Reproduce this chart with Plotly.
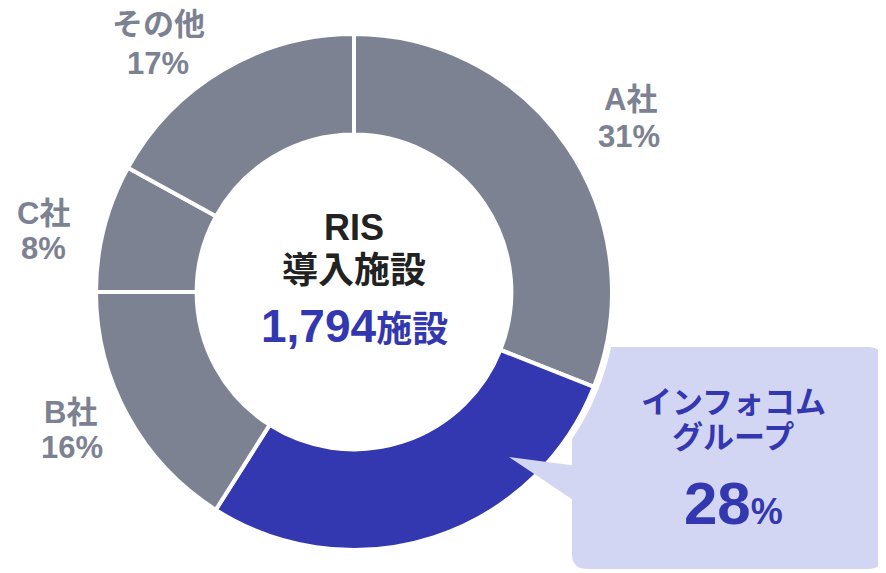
import plotly.graph_objects as go

# ---- data ----
labels = ["A社", "インフォコム<br>グループ", "B社", "C社", "その他"]
values = [31, 28, 16, 8, 17]
pct_text = ["31%", "28%", "16%", "8%", "17%"]
total_facilities = "1,794"

# page body has an 8px margin; size the figure so it fits the 886x573 window
OFF = 8
W, H = 886 - OFF, 573 - OFF
GRAY = "#7D8293"
BLUE = "#3338B0"
CALLOUT_BG = "#D3D6F2"
FONT = "Liberation Sans, Arial, Noto Sans CJK JP, sans-serif"

def px(x):
    return (x - OFF) / W

def py(y):
    return 1 - (y - OFF) / H

cx, cy, R = 354, 292, 258

fig = go.Figure()
fig.add_trace(go.Pie(
    labels=labels,
    values=values,
    hole=0.61,
    sort=False,
    direction="clockwise",
    rotation=0,
    marker=dict(colors=[GRAY, BLUE, GRAY, GRAY, GRAY], line=dict(color="white", width=4)),
    textinfo="none",
    hoverinfo="skip",
    showlegend=False,
    domain=dict(x=[px(cx - R), px(cx + R)], y=[py(cy + R), py(cy - R)]),
))

# rounded callout rectangle
x0, x1, y0, y1, r = 572, 883, 347, 569, 15
def P(x, y):
    return f"{px(x):.5f},{py(y):.5f}"
rect_path = (
    f"M {P(x0 + r, y0)} L {P(x1 - r, y0)} Q {P(x1, y0)} {P(x1, y0 + r)} "
    f"L {P(x1, y1 - r)} Q {P(x1, y1)} {P(x1 - r, y1)} "
    f"L {P(x0 + r, y1)} Q {P(x0, y1)} {P(x0, y1 - r)} "
    f"L {P(x0, y0 + r)} Q {P(x0, y0)} {P(x0 + r, y0)} Z"
)
tail_path = f"M {P(509, 457)} L {P(585, 467)} L {P(585, 508)} Z"

shapes = [
    dict(type="path", path=rect_path, xref="paper", yref="paper",
         fillcolor=CALLOUT_BG, line=dict(width=0), layer="below"),
    dict(type="circle", xref="paper", yref="paper",
         x0=px(cx - 263), x1=px(cx + 263), y0=py(cy + 263), y1=py(cy - 263),
         fillcolor="white", line=dict(width=0), layer="below"),
    dict(type="path", path=tail_path, xref="paper", yref="paper",
         fillcolor=CALLOUT_BG, line=dict(width=0), layer="above"),
]

annotations = []
def ann(text, x, y, size, color):
    annotations.append(dict(
        text=text, x=px(x), y=py(y), xref="paper", yref="paper",
        xanchor="center", yanchor="middle", showarrow=False,
        font=dict(family=FONT, size=size, color=color, weight=700),
    ))

# outside labels
ann("A社", 630, 100, 31, GRAY)
ann(pct_text[0], 629, 136, 31, GRAY)
ann("B社", 70, 412, 31, GRAY)
ann(pct_text[2], 72, 447, 31, GRAY)
ann("C社", 43, 213, 31, GRAY)
ann(pct_text[3], 43, 248, 31, GRAY)
ann("その他", 158, 25, 31, GRAY)
ann(pct_text[4], 158, 63, 31, GRAY)

# center text
ann("RIS", 354, 228, 36, "#222222")
ann("導入施設", 354, 271, 36, "#222222")
ann(f"{total_facilities}<span style='font-size:36px'>施設</span>", 354, 326, 46, BLUE)

# callout text
ann("インフォコム", 733, 402, 31, BLUE)
ann("グループ", 733, 437, 31, BLUE)
ann("28<span style='font-size:36px'>%</span>", 733, 503, 60, BLUE)

fig.update_layout(
    width=W, height=H,
    margin=dict(l=0, r=0, t=0, b=0),
    paper_bgcolor="white",
    plot_bgcolor="white",
    shapes=shapes,
    annotations=annotations,
    showlegend=False,
)

fig.write_html("out.html")
